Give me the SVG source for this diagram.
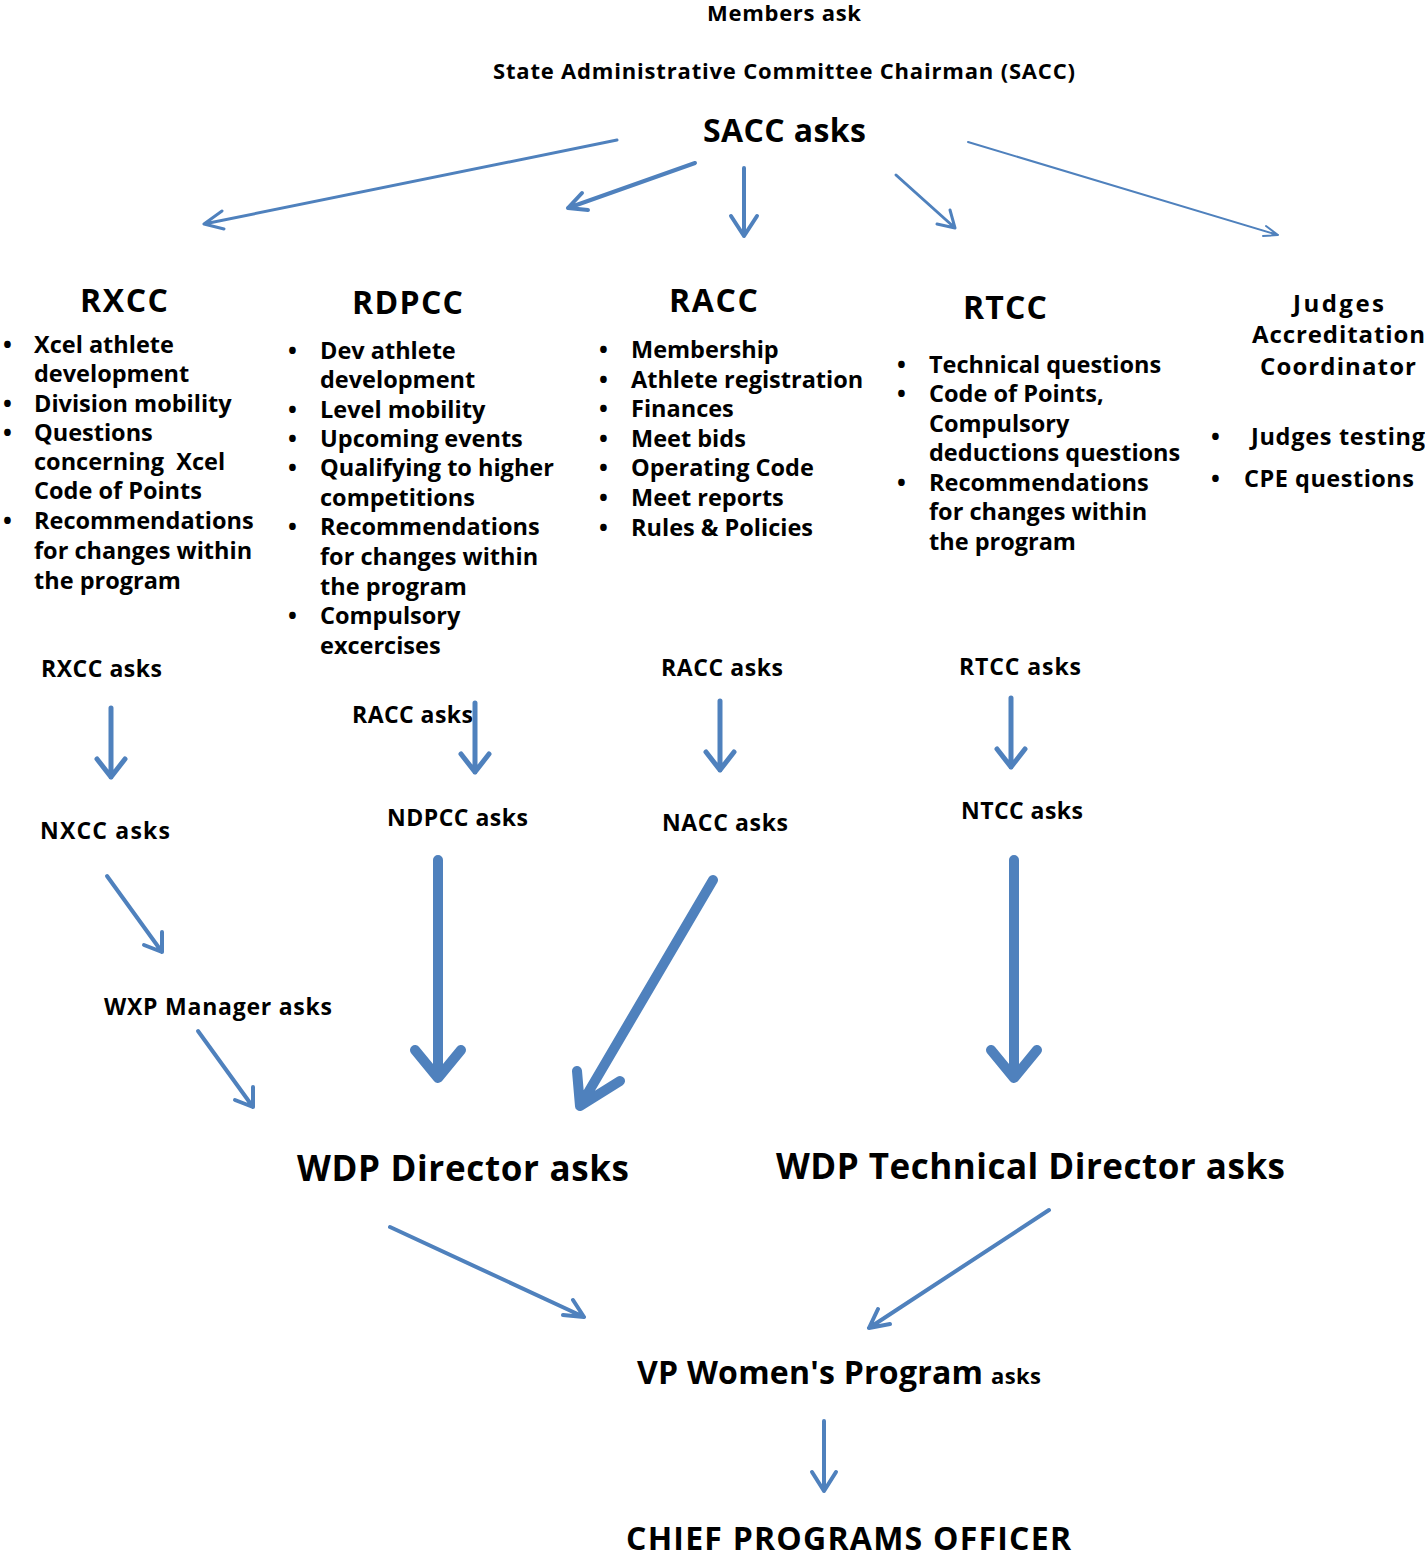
<svg xmlns="http://www.w3.org/2000/svg" width="1425" height="1556" viewBox="0 0 1425 1556">
<style>
text{font-family:"Open Sans","Liberation Sans",sans-serif;font-weight:700;fill:#000}
.t22{font-size:22px}
.t23{font-size:23px}
.li{font-size:23.5px}
.t24{font-size:24px}
.t32{font-size:32px}
.t35{font-size:35px}
.a{fill:none;stroke:#4F81BD;stroke-linecap:round;stroke-linejoin:round}
</style>
<rect width="1425" height="1556" fill="#fff"/>

<g id="members"><text class="t22" x="707" y="21" textLength="154">Members ask</text></g>
<g id="sacc-title"><text class="t22" x="493" y="79" textLength="582">State Administrative Committee Chairman (SACC)</text></g>
<g id="sacc"><text class="t32" x="703" y="142" textLength="163">SACC asks</text></g>

<g id="rxcc">
<text class="t32" x="80" y="312" textLength="88">RXCC</text>
<g class="li">
<text x="3" y="353">•</text><text x="34" y="353">Xcel athlete</text>
<text x="34" y="382">development</text>
<text x="3" y="412">•</text><text x="34" y="412">Division mobility</text>
<text x="3" y="441">•</text><text x="34" y="441">Questions</text>
<text x="34" y="470" xml:space="preserve">concerning  Xcel</text>
<text x="34" y="499">Code of Points</text>
<text x="3" y="529">•</text><text x="34" y="529">Recommendations</text>
<text x="34" y="559">for changes within</text>
<text x="34" y="589">the program</text>
</g>
</g>

<g id="rdpcc">
<text class="t32" x="352" y="314" textLength="111">RDPCC</text>
<g class="li">
<text x="288" y="359">•</text><text x="320" y="359">Dev athlete</text>
<text x="320" y="388">development</text>
<text x="288" y="418">•</text><text x="320" y="418">Level mobility</text>
<text x="288" y="447">•</text><text x="320" y="447">Upcoming events</text>
<text x="288" y="476">•</text><text x="320" y="476">Qualifying to higher</text>
<text x="320" y="506">competitions</text>
<text x="288" y="535">•</text><text x="320" y="535">Recommendations</text>
<text x="320" y="565">for changes within</text>
<text x="320" y="595">the program</text>
<text x="288" y="624">•</text><text x="320" y="624">Compulsory</text>
<text x="320" y="654">excercises</text>
</g>
</g>

<g id="racc">
<text class="t32" x="669" y="312" textLength="89">RACC</text>
<g class="li">
<text x="599" y="358">•</text><text x="631" y="358">Membership</text>
<text x="599" y="388">•</text><text x="631" y="388">Athlete registration</text>
<text x="599" y="417">•</text><text x="631" y="417">Finances</text>
<text x="599" y="447">•</text><text x="631" y="447">Meet bids</text>
<text x="599" y="476">•</text><text x="631" y="476">Operating Code</text>
<text x="599" y="506">•</text><text x="631" y="506">Meet reports</text>
<text x="599" y="536">•</text><text x="631" y="536">Rules &amp; Policies</text>
</g>
</g>

<g id="rtcc">
<text class="t32" x="963" y="319" textLength="84">RTCC</text>
<g class="li">
<text x="897" y="373">•</text><text x="929" y="373">Technical questions</text>
<text x="897" y="402">•</text><text x="929" y="402">Code of Points,</text>
<text x="929" y="432">Compulsory</text>
<text x="929" y="461">deductions questions</text>
<text x="897" y="491">•</text><text x="929" y="491">Recommendations</text>
<text x="929" y="520">for changes within</text>
<text x="929" y="550">the program</text>
</g>
</g>

<g id="judges">
<text class="t24" x="1293" y="312" textLength="91">Judges</text>
<text class="t24" x="1252" y="343" textLength="173">Accreditation</text>
<text class="t24" x="1260" y="375" textLength="156">Coordinator</text>
<g class="li">
<text x="1211" y="445">•</text><text x="1251" y="445" textLength="174">Judges testing</text>
<text x="1211" y="487">•</text><text x="1244" y="487" textLength="170">CPE questions</text>
</g>
</g>

<g id="rxcc-asks"><text class="t23" x="41" y="677" textLength="121">RXCC asks</text></g>
<g id="racc-asks-1"><text class="t23" x="352" y="723" textLength="121">RACC asks</text></g>
<g id="racc-asks-2"><text class="t23" x="661" y="676" textLength="122">RACC asks</text></g>
<g id="rtcc-asks"><text class="t23" x="959" y="675" textLength="122">RTCC asks</text></g>
<g id="nxcc-asks"><text class="t23" x="40" y="839" textLength="130">NXCC asks</text></g>
<g id="ndpcc-asks"><text class="t23" x="387" y="826" textLength="141">NDPCC asks</text></g>
<g id="nacc-asks"><text class="t23" x="662" y="831" textLength="126">NACC asks</text></g>
<g id="ntcc-asks"><text class="t23" x="961" y="819" textLength="122">NTCC asks</text></g>
<g id="wxp"><text class="t23" x="104" y="1015" textLength="228">WXP Manager asks</text></g>
<g id="wdp-director"><text class="t35" x="297" y="1181" textLength="332">WDP Director asks</text></g>
<g id="wdp-tech"><text class="t35" x="776" y="1179" textLength="509">WDP Technical Director asks</text></g>
<g id="vp"><text class="t32" x="637" y="1384" textLength="346">VP Women's Program</text><text class="t22" x="991" y="1384" textLength="50">asks</text></g>
<g id="cpo"><text class="t32" x="626" y="1550" textLength="445">CHIEF PROGRAMS OFFICER</text></g>

<g id="connectors">
<path class="a" stroke-width="3" d="M617 140 L204 224 M222 211 L204 224 L224 229"/>
<path class="a" stroke-width="4" d="M695 163 L568 208 M582 193 L568 208 L588 210"/>
<path class="a" stroke-width="4" d="M744 168 L744 236 M731 216 L744 236 L757 216"/>
<path class="a" stroke-width="3" d="M896 175 L955 228 M950 210 L955 228 L937 224"/>
<path class="a" stroke-width="2" d="M968 142 L1278 235 M1266 226 L1278 235 L1263 236"/>
<path class="a" stroke-width="5" d="M111 708 L111 777 M97 759 L111 777 L125 759"/>
<path class="a" stroke-width="5" d="M475 703 L475 772 M461 754 L475 772 L489 754"/>
<path class="a" stroke-width="5" d="M720 701 L720 770 M706 752 L720 770 L734 752"/>
<path class="a" stroke-width="5" d="M1011 698 L1011 767 M997 749 L1011 767 L1025 749"/>
<path class="a" stroke-width="4" d="M107 876 L162 952 M162 932 L162 952 L144 945"/>
<path class="a" stroke-width="4" d="M198 1031 L253 1107 M253 1087 L253 1107 L235 1100"/>
<path class="a" stroke-width="10" d="M438 860 L438 1076 M415 1050 L438 1078 L461 1050"/>
<path class="a" stroke-width="10" d="M713 880 L582 1103 M577 1071 L580 1106 L620 1081"/>
<path class="a" stroke-width="10" d="M1014 860 L1014 1076 M991 1050 L1014 1078 L1037 1050"/>
<path class="a" stroke-width="4" d="M390 1227 L584 1317 M573 1300 L584 1317 L563 1315"/>
<path class="a" stroke-width="4" d="M1049 1210 L869 1328 M878 1309 L869 1328 L890 1324"/>
<path class="a" stroke-width="4" d="M824 1421 L824 1491 M812 1472 L824 1491 L836 1472"/>
</g>
</svg>
